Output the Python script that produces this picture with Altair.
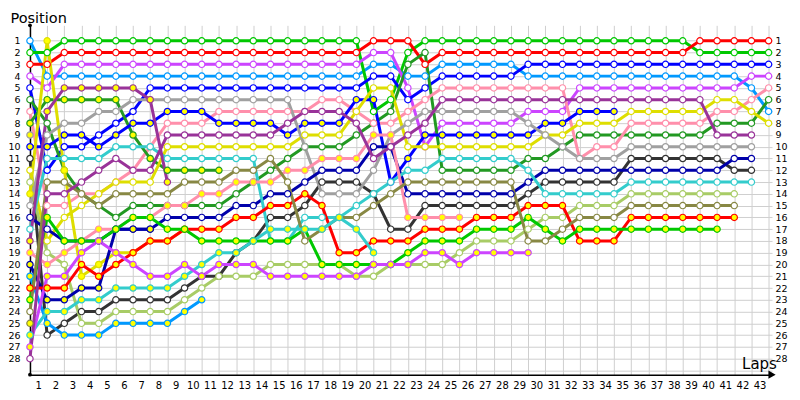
import altair as alt
import pandas as pd

# ---------------- data (position per lap, index = lap number) ----------------
laps_axis = list(range(1, 44))
positions_axis = list(range(1, 30))

LB_H = [1,4,4,4,4,4,4,4,4,4, 4,4,4,4,4,4,4,4,4,4, 3,3,4,4,3,3,3,3,3,4, 4,4,4,4,4,4,4,4,4,4, 4,4,5,7]
G_H  = [2,2,1,1,1,1,1,1,1,1, 1,1,1,1,1,1,1,1,1,1, 7,6,2,1,1,1,1,1,1,1, 1,1,1,1,1,1,1,1,1,2, 2,2,2,2]
R_H  = [3,3,2,2,2,2,2,2,2,2, 2,2,2,2,2,2,2,2,2,2, 1,1,1,3,2,2,2,2,2,2, 2,2,2,2,2,2,2,2,2,1, 1,1,1,1]
V_H  = [4,5,3,3,3,3,3,3,3,3, 3,3,3,3,3,3,3,3,3,3, 2,2,5,10,8,8,8,8,8,7, 7,7,5,5,5,5,5,5,5,5, 5,5,4,4]
B_H  = [5,12,10,10,9,8,7,5,5,5, 5,5,5,5,5,5,5,5,5,5, 4,4,6,5,4,4,4,4,4,3, 3,3,3,3,3,3,3,3,3,3, 3,3,3,3]
DG_H = [6,8,12,14,15,16,15,15,15,15, 15,15,14,13,12,11,10,10,10,9, 8,7,3,2,12,12,12,12,12,11, 11,10,9,9,9,9,9,9,9,9, 8,8,8,6]
PK_H = [7,15,15,14,14,13,12,10,8,8, 8,7,7,7,7,7,7,6,6,7, 8,8,7,6,5,5,5,5,5,5, 5,5,11,10,10,8,8,8,8,8, 7,7,6,5]
DG_F = [8,6,6,6,6,6,9,11,12,12, 12,12]
GR_F = [9]
B_F  = [10,10,9,9,10,9,8,8,7,7, 7,8,8,8,8,9,8,8,8,6, 6,13,11,9,9,9,9,9,9,9, 8,8,7,7,7]
DK_H = [11,26,25,24,24,23,23,23,23,22, 21,21,19,18,16,16,15,13,13,13, 14,17,17,15,15,15,15,15,15,14, 13,13,13,13,13,11,11,11,11,11, 11,12,12]
Y_H  = [12,18,16,15,14,13,13,13,10,10, 10,10,10,10,10,10,9,9,9,7, 5,5,10,10,10,10,10,10,10,10, 9,9,8,8,8,7,7,7,7,7, 6,6,7,8]
LG_H = [13,19,20,25,25,24,24,24,24,23, 22,21,21,21,20,20,20,20,20,21, 21,20,20,20,20,19,18,18,18,17, 16,16,15,15,15,14,14,14,14,14, 14,14]
Y_F  = [14,1,12,21,20,19,19,18,18,17]
GR_H = [15,9,8,8,7,7,6,6,6,6, 6,6,6,6,6,6,10,14,14,14, 12,9,8,7,7,7,7,7,7,8, 9,10,11,11,11,10,10,10,10,10, 10,10,10]
DB_H = [16,17,18,18,18,17,17,17,16,16, 16,16,15,15,14,14,13,12,12,12, 10,10,14,14,14,14,14,14,14,13, 12,12,12,12,12,12,12,12,12,12, 12,11,11]
C_H  = [17,11,11,11,11,10,10,10,11,11, 11,11,11,11,18,18,16,16,16,15, 14,13,12,12,11,11,11,11,11,12, 14,14,14,14,14,13,13,13,13,13, 13,13,13]
PU_F = [18,7,5,5,5,5,5,6,13]
PK_F = [19,20,19,18,17,17,16,16,15,15, 14,14,13,13,13,12,12,11,11,11, 9,9,16,16,16,16]
DB_F = [20,23,23,22,22,17,17,17]
LB_F = [21,25,26,26,26,25,25,25,25,24, 23]
R_F  = [22,22,22,20,21,20,19,18,18,17, 17,17,16,16,15,15,14,15,19,19, 18,18,18,17,17,17,16,16,16,15, 15,15,18,18,18,16,16,16,16,16, 16,16]
G_F  = [23,16,18,18,18,17,16,16,17,17, 18,18,18,18,18,18,17,20,20,20, 20,20,19,18,18,18,17,17,17,16, 17,18,17,17,17,17,17,17,17,17, 17]
OL_H = [24,13,13,14,15,14,14,14,14,13, 13,13,12,12,11,13,18,17,16,16, 15,14,13,13,13,13,13,13,13,18, 18,17,16,16,16,15,15,15,15,15, 15,15]
OL_F = [25]
C_F  = [26,24,24,23,23,22,22,22,22,21, 20,19,19,18,17,17,17,17,16,17, 19]
V_F  = [27,21,21,19,18,19,20,21,21,20, 21,20,20,20,21,21,21,21,21,21, 20,20,20,19,19,20,19,19,19,19]
PU_H = [28,14,14,13,12,11,12,12,9,9, 9,9,9,9,9,8,7,7,7,8, 11,10,9,8,6,6,6,6,6,6, 6,6,6,6,6,6,6,6,6,6, 9,9,9]

drivers = ["LB_H", "G_H", "R_H", "V_H", "B_H", "DG_H", "PK_H", "DG_F", "GR_F", "B_F",
           "DK_H", "Y_H", "LG_H", "Y_F", "GR_H", "DB_H", "C_H", "PU_F", "PK_F", "DB_F",
           "LB_F", "R_F", "G_F", "OL_H", "OL_F", "C_F", "V_F", "PU_H"]
series = [LB_H, G_H, R_H, V_H, B_H, DG_H, PK_H, DG_F, GR_F, B_F,
          DK_H, Y_H, LG_H, Y_F, GR_H, DB_H, C_H, PU_F, PK_F, DB_F,
          LB_F, R_F, G_F, OL_H, OL_F, C_F, V_F, PU_H]

team_colors = {
    "G": "#00c800", "R": "#ff0000", "V": "#cc44ff", "LB": "#0099ff", "B": "#0000ff",
    "GR": "#a0a0a0", "PK": "#ff8fab", "PU": "#993399", "Y": "#dede00", "C": "#33cccc",
    "DG": "#229922", "OL": "#888844", "DB": "#0000aa", "DK": "#333333", "LG": "#a8cc66",
}
driver_colors = [team_colors[d.split("_")[0]] for d in drivers]
marker_fill = {"H": "#ffffff", "F": "#ffff00"}

rows = []
for name, plist in zip(drivers, series):
    for lap, p in enumerate(plist):
        rows.append({"driver": name, "lap": lap, "pos": p,
                     "fill": marker_fill[name.split("_")[1]]})
df = pd.DataFrame(rows)

x_max = 43.2
y_min, y_max = -0.314, 29.36
decor = pd.DataFrame({"lap": [x_max, 0, 0], "pos": [y_max, y_min, y_max],
                      "shape": ["triangle-right", "circle", "circle"],
                      "size": [70, 14, 14]})

FONT = "DejaVu Sans"
xs = alt.Scale(domain=[0, x_max], nice=False, zero=False)
ys = alt.Scale(domain=[y_min, y_max], reverse=True, nice=False, zero=False)
cs = alt.Scale(domain=drivers, range=driver_colors)

x_axis = alt.Axis(values=laps_axis, labelOffset=-9, ticks=False, grid=True,
                  gridColor="#cfcfcf", gridWidth=1, domainColor="black", domainWidth=1.5,
                  labelFont=FONT, labelFontSize=10, labelColor="black", labelPadding=6,
                  labelFlush=False, labelOverlap=False,
                  title="Laps", titleFont=FONT, titleFontSize=15, titleFontWeight="normal",
                  titleColor="black", titleX=713, titleY=-6, titleAlign="left",
                  titleBaseline="alphabetic")
y_axis = alt.Axis(values=positions_axis, labelExpr="datum.value <= 28 ? datum.label : ''",
                  ticks=False, grid=True, gridColor="#cfcfcf", gridWidth=1,
                  domainColor="black", domainWidth=1.5, labelFont=FONT, labelFontSize=9.5,
                  labelColor="black", labelPadding=10, labelFlush=False, labelOverlap=False,
                  title="Position", titleFont=FONT, titleFontSize=14.5,
                  titleFontWeight="normal", titleColor="black", titleAngle=0,
                  titleX=-20, titleY=-3, titleAlign="left", titleBaseline="alphabetic")
y_axis_right = alt.Axis(orient="right", values=list(range(1, 29)), ticks=False, grid=False,
                        domain=False, labelFont=FONT, labelFontSize=9.5, labelColor="black",
                        labelPadding=3, labelFlush=False, labelOverlap=False, title=None)

base = alt.Chart(df)
lines = base.mark_line(strokeWidth=3).encode(
    x=alt.X("lap:Q", scale=xs, axis=x_axis),
    y=alt.Y("pos:Q", scale=ys, axis=y_axis),
    color=alt.Color("driver:N", scale=cs, legend=None),
    detail="driver:N",
)
points = base.mark_point(shape="circle", filled=True, size=40, strokeWidth=1.2, opacity=1).encode(
    x=alt.X("lap:Q", scale=xs, axis=x_axis),
    y=alt.Y("pos:Q", scale=ys, axis=None),
    fill=alt.Fill("fill:N", scale=None),
    stroke=alt.Stroke("driver:N", scale=cs, legend=None),
)
right = base.mark_point(opacity=0).encode(
    x=alt.X("lap:Q", scale=xs, axis=x_axis),
    y=alt.Y("pos:Q", scale=ys, axis=y_axis_right),
)
ends = alt.Chart(decor).mark_point(filled=True, color="black", opacity=1).encode(
    x=alt.X("lap:Q", scale=xs, axis=x_axis),
    y=alt.Y("pos:Q", scale=ys, axis=None),
    shape=alt.Shape("shape:N", scale=None),
    size=alt.Size("size:Q", scale=None),
)

chart = alt.layer(lines, points, right, ends).resolve_axis(y="independent").properties(
    width=743.5, height=350,
    autosize=alt.AutoSizeParams(type="none"),
    padding={"left": 22, "top": 17, "right": 20, "bottom": 20},
    background="white",
).configure_view(stroke=None)

chart.save("out.html", embed_options={"renderer": "svg", "actions": False})
